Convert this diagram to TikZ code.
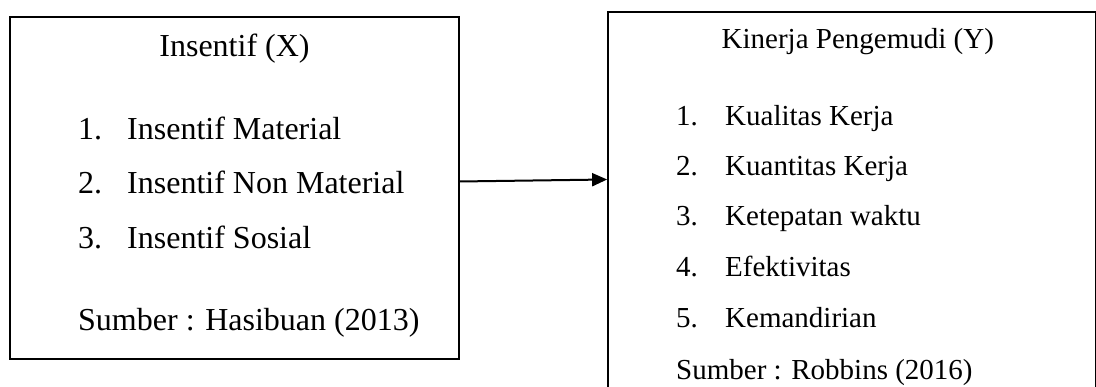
\documentclass[tikz,border=0pt]{standalone}
\usepackage{fontspec}
\setmainfont{Liberation Serif}
\usepackage{tikz}
\usetikzlibrary{arrows.meta,positioning,calc}

\begin{document}
\begin{tikzpicture}[x=1pt,y=1pt,
    kotak/.style={draw=black,line width=1.7pt,inner sep=0pt},
    teksX/.style={inner sep=0pt,anchor=base west,font=\fontsize{32}{38}\selectfont},
    teksY/.style={inner sep=0pt,anchor=base west,font=\fontsize{29}{35}\selectfont},
    >={Triangle[length=15pt,width=13pt]}]
  \useasboundingbox (0,0) rectangle (1096,387);
  \clip (0,0) rectangle (1096,387);
  % variabel bebas
  \node[kotak,minimum width=449pt,minimum height=342pt] (insentif) at (234.5,199) {};
  \node[teksX,anchor=base] (judulX) at (234.5,330) {Insentif (X)};
  \foreach \i/\t/\y in {1/Insentif Material/247.7,2/Insentif Non Material/193,3/Insentif Sosial/138}{
    \node[teksX] (nx\i) at (78,\y) {\i.};
    \node[teksX] (ix\i) at (127,\y) {\t};
  }
  \node[teksX] (sumberX) at (78,56) {Sumber : Hasibuan (2013)};
  % variabel terikat
  \node[kotak,minimum width=487.5pt,minimum height=400pt] (kinerja) at (851.75,175) {};
  \node[teksY] (judulY) at (721.5,338.7) {Kinerja Pengemudi (Y)};
  \foreach \i/\t/\y in {1/Kualitas Kerja/261.3,2/Kuantitas Kerja/211,3/Ketepatan waktu/161,
                        4/Efektivitas/110.3,5/Kemandirian/59.7}{
    \node[teksY] (ny\i) at (676,\y) {\i.};
    \node[teksY] (iy\i) at (725,\y) {\t};
  }
  \node[teksY] (sumberY) at (676,7) {Sumber : Robbins (2016)};
  \draw[->,line width=2pt] ([yshift=6.5pt]insentif.east) -- ([yshift=32.5pt]kinerja.west);
\end{tikzpicture}
\end{document}
